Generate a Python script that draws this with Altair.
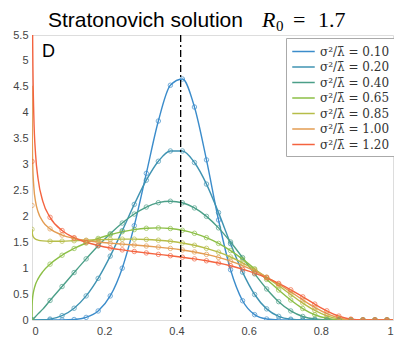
import altair as alt
import pandas as pd

# x positions (fraction infected)
x_grid = [0, 0.0002, 0.0005, 0.001, 0.002, 0.005, 0.01, 0.0167, 0.03, 0.05,
          0.0833, 0.1167, 0.15, 0.1833, 0.2167, 0.25, 0.2833, 0.3167, 0.35, 0.3833,
          0.4167, 0.45, 0.4833, 0.5167, 0.55, 0.5833, 0.6167, 0.65, 0.6833, 0.7167,
          0.75, 0.7833, 0.8167, 0.85, 0.8833, 0.9167, 0.95, 0.9833, 1.0]

ratios = ["0.10", "0.20", "0.40", "0.65", "0.85", "1.00", "1.20"]

dens_010 = [0, 0, 0, 0, 0, 0, 0, 0, 0, 0.0,
            0.001, 0.009, 0.050, 0.174, 0.464, 1.00, 1.82, 2.83, 3.84, 4.53,
            4.65, 4.11, 3.09, 1.93, 0.97, 0.372, 0.103, 0.019, 0.002, 0,
            0, 0, 0, 0, 0, 0, 0, 0, 0]
dens_020 = [0, 0, 0, 0, 0, 0, 0, 0.001, 0.004, 0.018,
            0.084, 0.227, 0.465, 0.804, 1.233, 1.724, 2.231, 2.698, 3.063, 3.262,
            3.262, 3.039, 2.623, 2.072, 1.473, 0.923, 0.492, 0.215, 0.071, 0.016,
            0.002, 0, 0, 0, 0, 0, 0, 0, 0]
dens_040 = [0, 0.001, 0.003, 0.006, 0.013, 0.033, 0.068, 0.118, 0.21, 0.377,
            0.646, 0.916, 1.180, 1.431, 1.664, 1.871, 2.045, 2.180, 2.264, 2.292,
            2.262, 2.163, 2.000, 1.778, 1.506, 1.204, 0.891, 0.599, 0.354, 0.175,
            0.068, 0.018, 0.003, 0, 0, 0, 0, 0, 0]
dens_065 = [0, 0.244, 0.311, 0.375, 0.451, 0.572, 0.693, 0.794, 0.933, 1.078,
            1.250, 1.380, 1.486, 1.574, 1.646, 1.703, 1.745, 1.770, 1.777, 1.765,
            1.731, 1.673, 1.589, 1.478, 1.339, 1.174, 0.987, 0.784, 0.578, 0.385,
            0.221, 0.101, 0.033, 0.006, 0.0004, 0, 0, 0, 0]
dens_085 = [None, 1.754, 1.705, 1.669, 1.634, 1.591, 1.562, 1.543, 1.526, 1.519,
            1.521, 1.530, 1.539, 1.549, 1.556, 1.560, 1.560, 1.554, 1.540, 1.519,
            1.486, 1.442, 1.383, 1.309, 1.216, 1.104, 0.973, 0.824, 0.661, 0.491,
            0.327, 0.185, 0.080, 0.022, 0.003, 0, 0, 0, 0]
dens_100 = [None, 4.52, 3.84, 3.40, 3.01, 2.57, 2.28, 2.09, 1.90, 1.759,
            1.639, 1.575, 1.534, 1.505, 1.483, 1.464, 1.446, 1.428, 1.407, 1.382,
            1.351, 1.313, 1.266, 1.208, 1.136, 1.050, 0.947, 0.827, 0.690, 0.542,
            0.388, 0.242, 0.122, 0.042, 0.007, 0.0003, 0, 0, 0]
dens_120 = [None, 10.8, 8.12, 6.53, 5.26, 3.95, 3.19, 2.73, 2.29, 1.982,
            1.727, 1.589, 1.500, 1.437, 1.390, 1.353, 1.322, 1.294, 1.267, 1.241,
            1.212, 1.180, 1.143, 1.099, 1.046, 0.982, 0.905, 0.814, 0.706, 0.583,
            0.447, 0.307, 0.177, 0.075, 0.017, 0.001, 0, 0, 0]

# simulated histogram value of the first bin, drawn at x = 0
marker_at_zero = [0, 0, 0, 0, 1.75, 2.21, 3.06]
marker_start = 0.05

equilibrium_x = [0.4118]

colors = ["#3B8CCB", "#3F93B2", "#4B9F88", "#8CBF46", "#B6BD48", "#E39C52", "#F4633F"]
x_ticks = [0, 0.2, 0.4, 0.6, 0.8, 1]
y_ticks = [0, 0.5, 1, 1.5, 2, 2.5, 3, 3.5, 4, 4.5, 5, 5.5]

labels = ["σ²/λ̄ = " + r for r in ratios]
series = [dens_010, dens_020, dens_040, dens_065, dens_085, dens_100, dens_120]

rows, mrows = [], []
for lab, vals, m0 in zip(labels, series, marker_at_zero):
    mrows.append({"x": 0.0, "y": m0, "s": lab})
    for xv, yv in zip(x_grid, vals):
        if yv is None:
            continue
        rows.append({"x": xv, "y": yv, "s": lab})
        if marker_start <= xv < 1:
            mrows.append({"x": xv, "y": yv, "s": lab})
df = pd.DataFrame(rows)
dm = pd.DataFrame(mrows)
deq = pd.DataFrame({"x": equilibrium_x})

xs = alt.Scale(domain=[0, 1], nice=False)
ys = alt.Scale(domain=[0, 5.5], nice=False)
cs = alt.Scale(domain=labels, range=colors)

xax = alt.Axis(values=x_ticks, format="~g", title=None, grid=False, ticks=False, domain=False,
               labelFont="Liberation Sans", labelFontSize=11, labelColor="#444", labelPadding=5,
               labelOverlap=False)
yax = alt.Axis(values=y_ticks, format="~g", title=None, grid=False, ticks=False, domain=False,
               labelFont="Liberation Sans", labelFontSize=11, labelColor="#444", labelPadding=4,
               labelOverlap=False)

X = alt.X("x:Q", scale=xs, axis=xax)
Y = alt.Y("y:Q", scale=ys, axis=yax)

lines = alt.Chart(df).mark_line(strokeWidth=1.4, interpolate="monotone", clip=True).encode(
    x=X,
    y=Y,
    color=alt.Color("s:N", scale=cs, sort=labels, legend=alt.Legend(
        title=None, orient="none", legendX=254, legendY=3, symbolType="M-1.5,0H1.5",
        symbolSize=225, symbolStrokeWidth=1.5, labelFont="DejaVu Serif", labelFontSize=12,
        labelColor="#333", padding=5, rowPadding=0.5, strokeColor="#AAAAAA", fillColor="white",
        labelOffset=8, symbolOffset=4)),
    detail="s:N",
)

points = alt.Chart(dm).mark_point(shape="circle", filled=False, size=20, strokeWidth=1, clip=True).encode(
    x=X,
    y=Y,
    color=alt.Color("s:N", scale=cs, legend=None),
)

rule = alt.Chart(deq).mark_rule(color="black", strokeWidth=1.3, strokeDash=[7, 3, 2, 3]).encode(
    x=X
)

letter = alt.Chart(deq).mark_text(text="D", font="Liberation Sans", fontSize=18, align="left",
                                   baseline="alphabetic", color="black").encode(
    x=alt.value(10), y=alt.value(22))

t1 = alt.Chart(deq).mark_text(text="Stratonovich solution", font="Liberation Sans", fontSize=21,
                               align="left", baseline="alphabetic", color="black").encode(
    x=alt.value(16), y=alt.value(-8))
t2 = alt.Chart(deq).mark_text(text="R", font="Liberation Serif", fontStyle="italic", fontSize=22,
                               align="left", baseline="alphabetic", color="black").encode(
    x=alt.value(230), y=alt.value(-8))
t3 = alt.Chart(deq).mark_text(text="0", font="Liberation Serif", fontSize=15,
                               align="left", baseline="alphabetic", color="black").encode(
    x=alt.value(244), y=alt.value(-4))
t4 = alt.Chart(deq).mark_text(text="=", font="Liberation Serif", fontSize=22,
                               align="left", baseline="alphabetic", color="black").encode(
    x=alt.value(261), y=alt.value(-8))
t5 = alt.Chart(deq).mark_text(text="1.7", font="Liberation Serif", fontSize=22,
                               align="left", baseline="alphabetic", color="black").encode(
    x=alt.value(286), y=alt.value(-8))

chart = alt.layer(lines, points, rule, letter, t1, t2, t3, t4, t5).properties(
    width=361, height=285,
    padding={"left": 32, "top": 35, "right": 1, "bottom": 17},
    autosize=alt.AutoSizeParams(type="none"),
).configure_view(stroke="#B5B5B5", strokeWidth=1).configure(background="white")

chart.save("out.html", embed_options={"renderer": "svg", "actions": False})
